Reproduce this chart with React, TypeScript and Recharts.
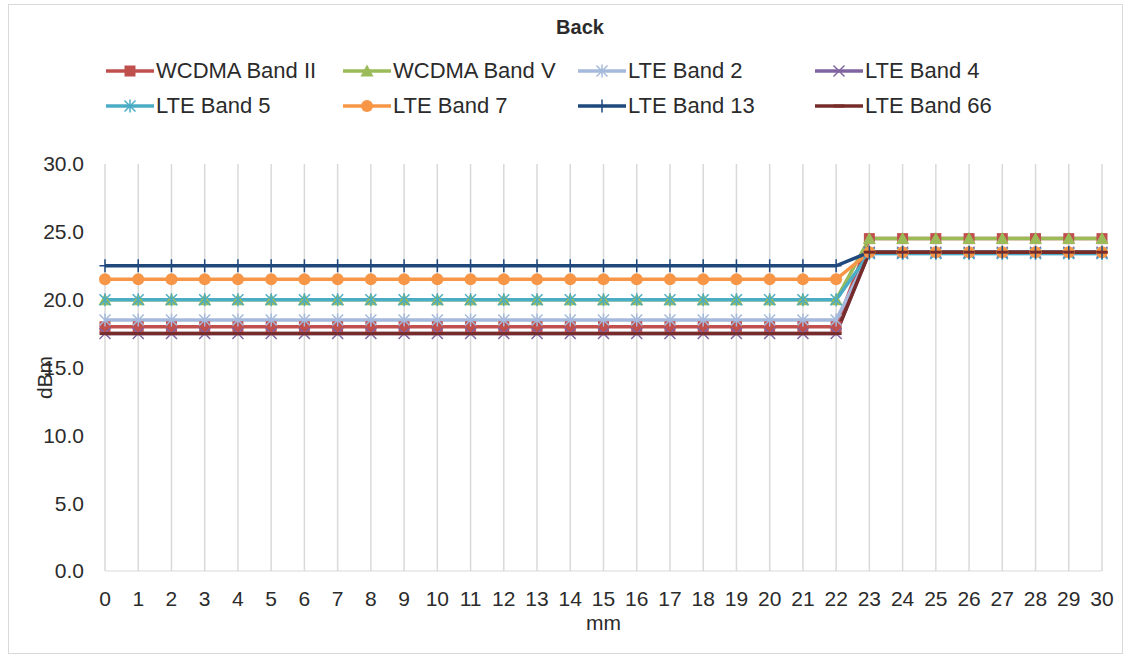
import { LineChart, Line, XAxis, YAxis, CartesianGrid, Label } from 'recharts'

const mm = [0, 1, 2, 3, 4, 5, 6, 7, 8, 9, 10, 11, 12, 13, 14, 15, 16, 17, 18, 19, 20, 21, 22, 23, 24, 25, 26, 27, 28, 29, 30]

const wcdmaII = [18, 18, 18, 18, 18, 18, 18, 18, 18, 18, 18, 18, 18, 18, 18, 18, 18, 18, 18, 18, 18, 18, 18, 24.5, 24.5, 24.5, 24.5, 24.5, 24.5, 24.5, 24.5]
const wcdmaV = [20, 20, 20, 20, 20, 20, 20, 20, 20, 20, 20, 20, 20, 20, 20, 20, 20, 20, 20, 20, 20, 20, 20, 24.5, 24.5, 24.5, 24.5, 24.5, 24.5, 24.5, 24.5]
const lte2 = [18.5, 18.5, 18.5, 18.5, 18.5, 18.5, 18.5, 18.5, 18.5, 18.5, 18.5, 18.5, 18.5, 18.5, 18.5, 18.5, 18.5, 18.5, 18.5, 18.5, 18.5, 18.5, 18.5, 23.4, 23.4, 23.4, 23.4, 23.4, 23.4, 23.4, 23.4]
const lte4 = [17.5, 17.5, 17.5, 17.5, 17.5, 17.5, 17.5, 17.5, 17.5, 17.5, 17.5, 17.5, 17.5, 17.5, 17.5, 17.5, 17.5, 17.5, 17.5, 17.5, 17.5, 17.5, 17.5, 23.5, 23.5, 23.5, 23.5, 23.5, 23.5, 23.5, 23.5]
const lte5 = [20, 20, 20, 20, 20, 20, 20, 20, 20, 20, 20, 20, 20, 20, 20, 20, 20, 20, 20, 20, 20, 20, 20, 23.4, 23.4, 23.4, 23.4, 23.4, 23.4, 23.4, 23.4]
const lte7 = [21.5, 21.5, 21.5, 21.5, 21.5, 21.5, 21.5, 21.5, 21.5, 21.5, 21.5, 21.5, 21.5, 21.5, 21.5, 21.5, 21.5, 21.5, 21.5, 21.5, 21.5, 21.5, 21.5, 23.5, 23.5, 23.5, 23.5, 23.5, 23.5, 23.5, 23.5]
const lte13 = [22.5, 22.5, 22.5, 22.5, 22.5, 22.5, 22.5, 22.5, 22.5, 22.5, 22.5, 22.5, 22.5, 22.5, 22.5, 22.5, 22.5, 22.5, 22.5, 22.5, 22.5, 22.5, 22.5, 23.5, 23.5, 23.5, 23.5, 23.5, 23.5, 23.5, 23.5]
const lte66 = [17.5, 17.5, 17.5, 17.5, 17.5, 17.5, 17.5, 17.5, 17.5, 17.5, 17.5, 17.5, 17.5, 17.5, 17.5, 17.5, 17.5, 17.5, 17.5, 17.5, 17.5, 17.5, 17.5, 23.5, 23.5, 23.5, 23.5, 23.5, 23.5, 23.5, 23.5]

const yTicks = [0, 5, 10, 15, 20, 25, 30]

type Shape = 'square' | 'triangle' | 'star' | 'x' | 'asterisk' | 'circle' | 'plus' | 'dash'

const series: { key: string; name: string; color: string; shape: Shape; values: number[] }[] = [
  { key: 'wcdmaII', name: 'WCDMA Band II', color: '#c0504d', shape: 'square', values: wcdmaII },
  { key: 'wcdmaV', name: 'WCDMA Band V', color: '#9bbb59', shape: 'triangle', values: wcdmaV },
  { key: 'lte2', name: 'LTE Band 2', color: '#a5b9dc', shape: 'star', values: lte2 },
  { key: 'lte4', name: 'LTE Band 4', color: '#8064a2', shape: 'x', values: lte4 },
  { key: 'lte5', name: 'LTE Band 5', color: '#4bacc6', shape: 'asterisk', values: lte5 },
  { key: 'lte7', name: 'LTE Band 7', color: '#f79646', shape: 'circle', values: lte7 },
  { key: 'lte13', name: 'LTE Band 13', color: '#1f497d', shape: 'plus', values: lte13 },
  { key: 'lte66', name: 'LTE Band 66', color: '#772c2a', shape: 'dash', values: lte66 },
]

const data = mm.map((x, i) => {
  const row: Record<string, number> = { mm: x }
  series.forEach((s) => (row[s.key] = s.values[i]))
  return row
})

const textColor = '#2b2b2b'

function Marker({ cx, cy, shape, color }: { cx: number; cy: number; shape: Shape; color: string }) {
  const r = 5.5
  switch (shape) {
    case 'square':
      return <rect x={cx - r} y={cy - r} width={r * 2} height={r * 2} fill={color} />
    case 'triangle':
      return <polygon points={`${cx},${cy - r - 1} ${cx + r + 1},${cy + r} ${cx - r - 1},${cy + r}`} fill={color} />
    case 'circle':
      return <circle cx={cx} cy={cy} r={r + 0.5} fill={color} />
    case 'x':
      return (
        <g stroke={color} strokeWidth={1.5}>
          <line x1={cx - r} y1={cy - r} x2={cx + r} y2={cy + r} />
          <line x1={cx - r} y1={cy + r} x2={cx + r} y2={cy - r} />
        </g>
      )
    case 'star':
    case 'asterisk':
      return (
        <g stroke={color} strokeWidth={1.5}>
          <line x1={cx - r} y1={cy - r} x2={cx + r} y2={cy + r} />
          <line x1={cx - r} y1={cy + r} x2={cx + r} y2={cy - r} />
          <line x1={cx} y1={cy - r - 1} x2={cx} y2={cy + r + 1} />
        </g>
      )
    case 'plus':
      return (
        <g stroke={color} strokeWidth={1.5}>
          <line x1={cx - r} y1={cy} x2={cx + r} y2={cy} />
          <line x1={cx} y1={cy - r - 1} x2={cx} y2={cy + r + 1} />
        </g>
      )
    case 'dash':
      return <rect x={cx - r} y={cy - 1.5} width={r * 2} height={3} fill={color} />
  }
}

const legendCols = [106, 343, 578, 815]
const legendRows = [71, 106]

export default function App() {
  return (
    <div
      style={{
        position: 'absolute',
        left: 0,
        top: 0,
        width: 1130,
        height: 658,
        background: '#fff',
        fontFamily: '"Liberation Sans", Arial, sans-serif',
      }}
    >
      <div
        style={{
          position: 'absolute',
          left: 8,
          top: 4,
          width: 1113,
          height: 648,
          border: '1px solid #d9d9d9',
        }}
      />
      <div
        style={{
          position: 'absolute',
          left: 0,
          width: 1160,
          top: 16,
          textAlign: 'center',
          fontWeight: 'bold',
          fontSize: 20,
          color: textColor,
        }}
      >
        Back
      </div>
      {series.map((s, i) => {
        const left = legendCols[i % 4]
        const top = legendRows[Math.floor(i / 4)]
        return (
          <div
            key={s.key}
            style={{ position: 'absolute', left, top: top - 14, height: 28, display: 'flex', alignItems: 'center' }}
          >
            <svg width={48} height={24}>
              <line x1={0} y1={12} x2={48} y2={12} stroke={s.color} strokeWidth={3.5} />
              <Marker cx={24} cy={12} shape={s.shape} color={s.color} />
            </svg>
            <span style={{ fontSize: 22, color: textColor, marginLeft: 2 }}>{s.name}</span>
          </div>
        )
      })}
      <div style={{ position: 'absolute', left: 0, top: 0 }}>
        <LineChart width={1130} height={658} data={data} margin={{ top: 164, right: 28, left: 0, bottom: 0 }}>
          <CartesianGrid horizontal={false} stroke="#d9d9d9" strokeWidth={1.5} />
          <XAxis
            dataKey="mm"
            type="number"
            domain={[0, 30]}
            ticks={mm}
            interval={0}
            height={87}
            tickLine={false}
            stroke="#d9d9d9"
            tick={{ fill: textColor, fontSize: 21 }}
            tickMargin={14}
          >
            <Label value="mm" position="insideTop" offset={44} fill={textColor} fontSize={21} />
          </XAxis>
          <YAxis
            domain={[0, 30]}
            ticks={yTicks}
            width={105}
            axisLine={false}
            tickLine={false}
            tick={{ fill: textColor, fontSize: 21 }}
            tickMargin={15}
            tickFormatter={(v: number) => v.toFixed(1)}
          >
            <Label
              content={(p: any) => {
                const vb = p.viewBox
                const x = vb.x + 44
                const y = vb.y + vb.height / 2 + 10
                return (
                  <text
                    x={x}
                    y={y}
                    transform={`rotate(-90 ${x} ${y})`}
                    textAnchor="middle"
                    dominantBaseline="central"
                    fill={textColor}
                    fontSize={21}
                  >
                    dBm
                  </text>
                )
              }}
            />
          </YAxis>
          {series.map((s) => (
            <Line
              key={s.key}
              dataKey={s.key}
              name={s.name}
              stroke={s.color}
              strokeWidth={3.5}
              isAnimationActive={false}
              dot={(p: any) => <Marker key={`${s.key}-${p.index}`} cx={p.cx} cy={p.cy} shape={s.shape} color={s.color} />}
              activeDot={false}
            />
          ))}
        </LineChart>
      </div>
    </div>
  )
}
